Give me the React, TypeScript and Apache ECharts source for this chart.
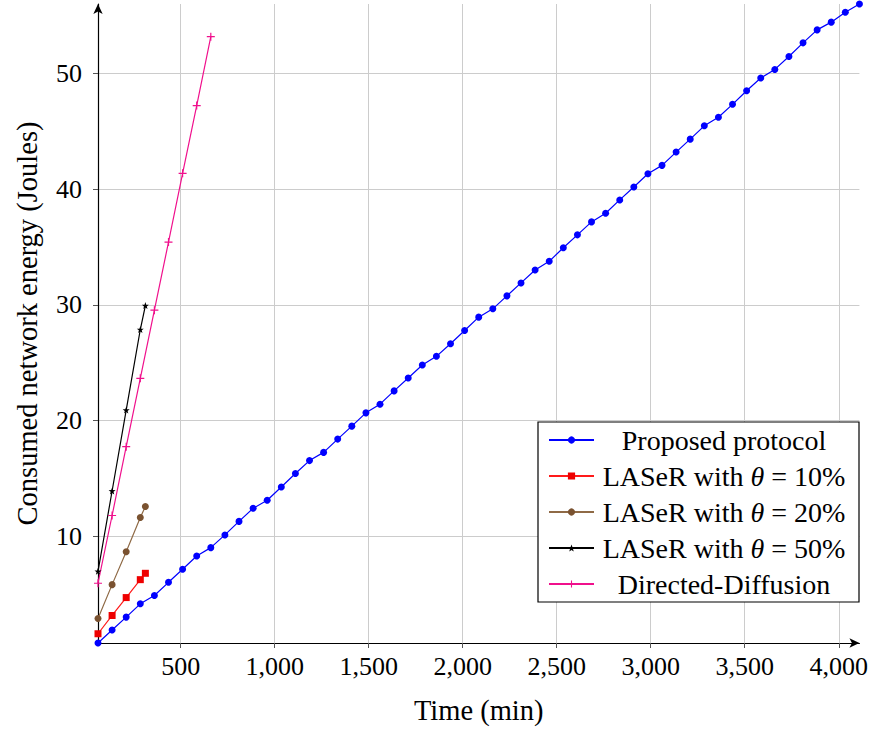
import React, { useEffect, useRef } from "react";
import * as echarts from "echarts";

// ---- data ----
const proposedTime = [
  60, 135, 210, 285, 360, 435, 510, 585, 660, 735, 810, 885, 960, 1035, 1110,
  1185, 1260, 1335, 1410, 1485, 1560, 1635, 1710, 1785, 1860, 1935, 2010, 2085,
  2160, 2235, 2310, 2385, 2460, 2535, 2610, 2685, 2760, 2835, 2910, 2985, 3060,
  3135, 3210, 3285, 3360, 3435, 3510, 3585, 3660, 3735, 3810, 3885, 3960, 4035,
  4110,
];
const proposedEnergy = [
  0.75, 1.87, 2.99, 4.14, 4.86, 6.0, 7.13, 8.28, 9.0, 10.1, 11.27, 12.4, 13.1,
  14.25, 15.41, 16.53, 17.24, 18.39, 19.51, 20.66, 21.41, 22.56, 23.68, 24.8,
  25.55, 26.64, 27.78, 28.94, 29.66, 30.78, 31.9, 33.02, 33.77, 34.94, 36.06,
  37.18, 37.93, 39.08, 40.2, 41.35, 42.07, 43.22, 44.34, 45.49, 46.23, 47.35,
  48.53, 49.63, 50.37, 51.49, 52.67, 53.79, 54.46, 55.32, 56.03,
];
const laserTime = [60, 135, 210, 285, 312];
const laser10Energy = [1.55, 3.13, 4.68, 6.23, 6.78];
const laser20Energy = [2.87, 5.8, 8.65, 11.6, 12.56];
const laser50Energy = [6.95, 13.9, 20.9, 27.87, 29.94];
const diffusionTime = [60, 135, 210, 285, 360, 435, 510, 585, 660];
const diffusionEnergy = [5.92, 11.78, 17.73, 23.65, 29.54, 35.43, 41.38, 47.24, 53.2];

const xTickValues = [500, 1000, 1500, 2000, 2500, 3000, 3500, 4000];
const yTickValues = [10, 20, 30, 40, 50];
const seriesNames = [
  "Proposed protocol",
  "LASeR with θ = 10%",
  "LASeR with θ = 20%",
  "LASeR with θ = 50%",
  "Directed-Diffusion",
];

const FONT = "'Liberation Serif', 'Times New Roman', serif";
const zip = (xs: number[], ys: number[]) => xs.map((x, i) => [x, ys[i]]);

const STAR =
  "path://M0,-10 L2.35,-3.24 L9.51,-3.09 L3.8,1.24 L5.88,8.09 L0,4 L-5.88,8.09 L-3.8,1.24 L-9.51,-3.09 L-2.35,-3.24 Z";
const PLUS =
  "path://M-1.5,-10 L1.5,-10 L1.5,-1.5 L10,-1.5 L10,1.5 L1.5,1.5 L1.5,10 L-1.5,10 L-1.5,1.5 L-10,1.5 L-10,-1.5 L-1.5,-1.5 Z";

export default function App() {
  const ref = useRef<HTMLDivElement>(null);

  useEffect(() => {
    if (!ref.current) return;
    const chart = echarts.init(ref.current, undefined, { renderer: "svg" });

    const mk = (
      name: string,
      xs: number[],
      ys: number[],
      color: string,
      symbol: string,
      size: number,
      lineColor?: string
    ) => ({
      name,
      type: "line",
      data: zip(xs, ys),
      symbol,
      symbolSize: size,
      showAllSymbol: true,
      itemStyle: { color },
      lineStyle: { color: lineColor || color, width: 1.2 },
      emphasis: { disabled: true },
    });

    const LEG = 28;

    chart.setOption({
      animation: false,
      grid: { left: 98, right: 11, top: 4, bottom: 85, containLabel: false },
      xAxis: {
        type: "value",
        min: 60,
        max: 4110,
        splitNumber: 8,
        name: "Time (min)",
        nameLocation: "middle",
        nameGap: 53,
        nameTextStyle: { fontFamily: FONT, fontSize: 28.5, color: "#000" },
        axisLine: {
          show: true,
          lineStyle: { color: "#000", width: 1.2 },
          symbol: ["none", "arrow"],
          symbolSize: [7, 10],
        },
        axisTick: { show: true, length: 5, lineStyle: { color: "#555" } },
        axisLabel: {
          fontFamily: FONT,
          fontSize: 26,
          color: "#000",
          margin: 10,
          showMinLabel: false,
          showMaxLabel: false,
          formatter: (v: number) =>
            xTickValues.includes(v) ? v.toLocaleString("en-US") : "",
        },
        splitLine: {
          show: true,
          showMinLine: false,
          showMaxLine: false,
          lineStyle: { color: "#cccccc", width: 1 },
        },
      },
      yAxis: {
        type: "value",
        min: 0.75,
        max: 56.03,
        splitNumber: 5,
        name: "Consumed network energy (Joules)",
        nameLocation: "middle",
        nameGap: 56,
        nameTextStyle: { fontFamily: FONT, fontSize: 28.5, color: "#000" },
        axisLine: {
          show: true,
          lineStyle: { color: "#000", width: 1.2 },
          symbol: ["none", "arrow"],
          symbolSize: [7, 10],
        },
        axisTick: { show: true, length: 5, lineStyle: { color: "#555" } },
        axisLabel: {
          fontFamily: FONT,
          fontSize: 26,
          color: "#000",
          margin: 16,
          showMinLabel: false,
          showMaxLabel: false,
          formatter: (v: number) => (yTickValues.includes(v) ? String(v) : ""),
        },
        splitLine: {
          show: true,
          showMinLine: false,
          showMaxLine: false,
          lineStyle: { color: "#cccccc", width: 1 },
        },
      },
      legend: {
        orient: "vertical",
        left: 538,
        top: 422,
        itemWidth: 45,
        itemHeight: 9,
        itemGap: 0,
        padding: [0, 10, 0, 10],
        backgroundColor: "#ffffff",
        borderColor: "#000000",
        borderWidth: 1.2,
        data: seriesNames,
        formatter: (name: string) => {
          const parts = name.split("θ");
          if (parts.length === 2) return `{t|${parts[0]}}{i|θ}{t|${parts[1]}}`;
          return `{t|${name}}`;
        },
        textStyle: {
          fontFamily: FONT,
          fontSize: LEG,
          color: "#000",
          width: 250,
          lineHeight: 36,
          rich: {
            t: { fontFamily: FONT, fontSize: LEG, color: "#000", align: "center", lineHeight: 36 },
            i: {
              fontFamily: FONT,
              fontSize: LEG,
              fontStyle: "italic",
              color: "#000",
              align: "center",
              lineHeight: 36,
            },
          },
        },
      },
      series: [
        mk(seriesNames[0], proposedTime, proposedEnergy, "#0000ff", "circle", 7),
        mk(seriesNames[1], laserTime, laser10Energy, "#ee0000", "rect", 7, "#ff1a1a"),
        mk(seriesNames[2], laserTime, laser20Energy, "#7a5230", "circle", 7, "#8f6a46"),
        mk(seriesNames[3], laserTime, laser50Energy, "#000000", STAR, 7),
        mk(seriesNames[4], diffusionTime, diffusionEnergy, "#f0108c", PLUS, 8),
      ],
    });

    return () => chart.dispose();
  }, []);

  return (
    <div
      ref={ref}
      style={{ position: "absolute", left: 0, top: 0, width: 871, height: 730, background: "#fff" }}
    />
  );
}
